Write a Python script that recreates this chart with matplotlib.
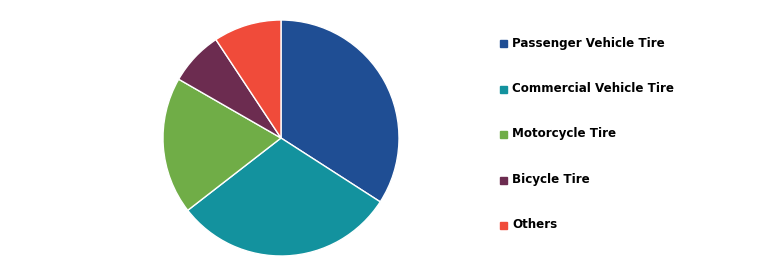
import matplotlib.pyplot as plt
from matplotlib.patches import Rectangle

labels = ["Passenger Vehicle Tire", "Commercial Vehicle Tire", "Motorcycle Tire",
          "Bicycle Tire", "Others"]
shares = [34.1, 30.4, 18.8, 7.4, 9.3]
colors = ["#1F4E94", "#13929E", "#70AD47", "#6C2C50", "#F04B3A"]

W, H = 759, 267
fig = plt.figure(figsize=(W / 100, H / 100), dpi=100)

# pie centred near (281, 138) px, radius ~118 px
cx, cy, r = 281, 138, 118
ax = fig.add_axes([(cx - r) / W, (H - cy - r) / H, 2 * r / W, 2 * r / H])
ax.pie(shares, colors=colors, startangle=90, counterclock=False, radius=1,
       wedgeprops=dict(edgecolor="white", linewidth=1))
ax.set_xlim(-1, 1)
ax.set_ylim(-1, 1)
ax.set_aspect("equal")
ax.axis("off")

# legend on the right
ys = [43, 89, 134, 180, 225]
for lab, col, y in zip(labels, colors, ys):
    fig.patches.append(Rectangle((500 / W, (H - y - 3.5) / H), 7 / W, 7 / H,
                                 transform=fig.transFigure, color=col))
    fig.text(512 / W, (H - y) / H, lab, fontsize=8.6, fontweight="bold",
             va="center", ha="left", color="black")

fig.savefig("out.png", dpi=100)
